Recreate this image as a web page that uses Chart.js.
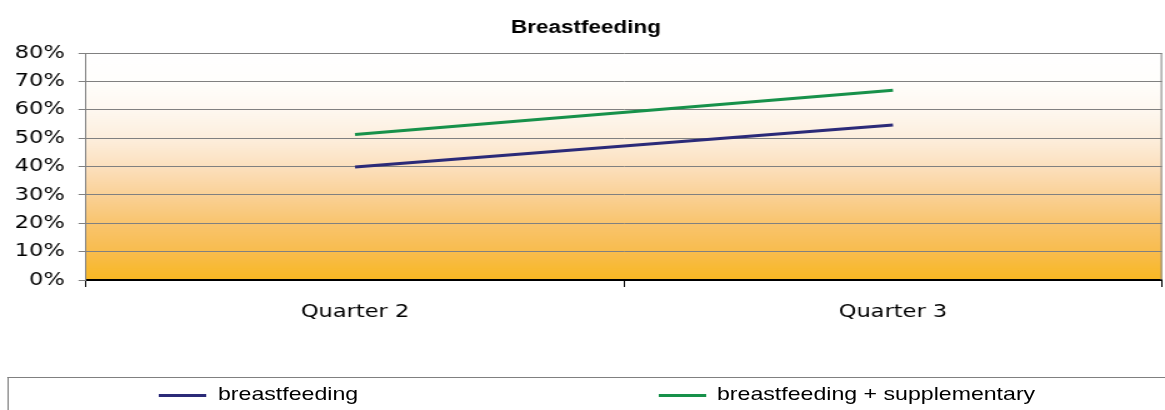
<!DOCTYPE html>
<html>
<head>
<meta charset="utf-8">
<script src="https://cdn.jsdelivr.net/npm/chart.js@4.4.0/dist/chart.umd.min.js"></script>
<style>
  html, body { margin: 0; padding: 0; background: #fff; overflow: hidden; }
  #wrap { position: absolute; left: 0; top: 0; width: 932px; height: 410px; transform: scaleX(1.25); transform-origin: 0 0; }
  #myChart { position: absolute; left: 0; top: 0; width: 932px; height: 410px; }
  #legend { position: absolute; left: 5.6px; top: 377px; width: 940px; height: 40px; border: 1px solid #808080; border-right: none; border-bottom: none; box-sizing: border-box; font-family: "Liberation Sans", Arial, sans-serif; font-size: 18.5px; color: #000; }
  .item { position: absolute; top: 5px; white-space: nowrap; }
  .swatch { display: inline-block; width: 38px; height: 3px; vertical-align: middle; margin-right: 9px; position: relative; top: 0px; }
</style>
</head>
<body>
<div id="wrap">
  <canvas id="myChart" width="932" height="410"></canvas>
  <div id="legend"></div>
</div>
<script>
const quarters = ["Quarter 2", "Quarter 3"];
const breastfeeding = [39.8, 54.6];
const breastfeedingSupp = [51.3, 66.9];
const yTicks = [0, 10, 20, 30, 40, 50, 60, 70, 80];

const COLORS = {
  navy: '#2B2A78',
  green: '#17914A',
  grid: '#808080'
};

// orange to white fill behind the plot, like the spreadsheet original
const areaFill = {
  id: 'areaFill',
  beforeDraw(chart) {
    const {ctx, chartArea} = chart;
    if (!chartArea) return;
    let g = ctx.createLinearGradient(0, chartArea.top, 0, chartArea.bottom);
    g.addColorStop(0, '#FFFFFF');
    g.addColorStop(0.12, '#FFFEFC');
    g.addColorStop(0.25, '#FEF8F0');
    g.addColorStop(0.38, '#FDEEDC');
    g.addColorStop(0.5, '#FCE0BE');
    g.addColorStop(0.62, '#FAD298');
    g.addColorStop(0.75, '#F9C46E');
    g.addColorStop(0.88, '#F8BC4C');
    g.addColorStop(1, '#F9B822');
    ctx.save();
    ctx.fillStyle = g;
    ctx.fillRect(chartArea.left, chartArea.top, chartArea.right - chartArea.left, chartArea.bottom - chartArea.top);
    ctx.restore();
  },
  afterDatasetsDraw(chart) {
    const {ctx, chartArea} = chart;
    ctx.save();
    ctx.strokeStyle = COLORS.grid;
    ctx.lineWidth = 1;
    ctx.beginPath();
    ctx.moveTo(chartArea.right - 0.5, chartArea.top);
    ctx.lineTo(chartArea.right - 0.5, chartArea.bottom);
    ctx.stroke();
    ctx.restore();
  }
};

const data = {
  labels: quarters,
  datasets: [
    { label: 'breastfeeding', data: breastfeeding, borderColor: COLORS.navy, backgroundColor: COLORS.navy, borderWidth: 3, pointRadius: 0, tension: 0 },
    { label: 'breastfeeding + supplementary', data: breastfeedingSupp, borderColor: COLORS.green, backgroundColor: COLORS.green, borderWidth: 3, pointRadius: 0, tension: 0 }
  ]
};

const config = {
  type: 'line',
  data: data,
  plugins: [areaFill],
  options: {
    responsive: false,
    devicePixelRatio: 1,
    animation: false,
    layout: { padding: { left: 8, right: 2.4, top: 0, bottom: 0 } },
    plugins: {
      legend: { display: false },
      tooltip: { enabled: false },
      title: {
        display: true,
        text: 'Breastfeeding',
        color: '#000',
        font: { family: '"Liberation Sans", Arial, sans-serif', size: 18, weight: 'bold' },
        padding: { top: 17, bottom: 14.4 }
      }
    },
    scales: {
      x: {
        offset: true,
        grid: { offset: true, drawOnChartArea: false, drawTicks: true, tickLength: 7, color: '#000' },
        border: { color: '#000', width: 2 },
        ticks: { color: '#000', padding: 15, maxRotation: 0, font: { family: '"DejaVu Sans", Verdana, sans-serif', size: 18 } },
        afterFit(scale) { scale.height = 130; }
      },
      y: {
        min: 0,
        max: 80,
        afterBuildTicks(scale) { scale.ticks = yTicks.map(v => ({ value: v })); },
        grid: { color: COLORS.grid, lineWidth: 1, tickLength: 6 },
        border: { color: COLORS.grid, width: 1 },
        ticks: {
          color: '#000',
          padding: 11,
          font: { family: '"DejaVu Sans", Verdana, sans-serif', size: 18 },
          callback: v => v + '%'
        },
        afterFit(scale) { scale.width = 60.8; }
      }
    }
  }
};

const myChart = new Chart(document.getElementById('myChart'), config);

// legend row drawn as html, items spaced like the original
const legendX = [126.4, 525.6];
const legendEl = document.getElementById('legend');
myChart.data.datasets.forEach((ds, i) => {
  let item = document.createElement('div');
  item.className = 'item';
  item.style.left = (legendX[i] - 5.6) + 'px';
  item.innerHTML = '<span class="swatch" style="background:' + ds.borderColor + '"></span>' + ds.label;
  legendEl.appendChild(item);
});
</script>
</body>
</html>
